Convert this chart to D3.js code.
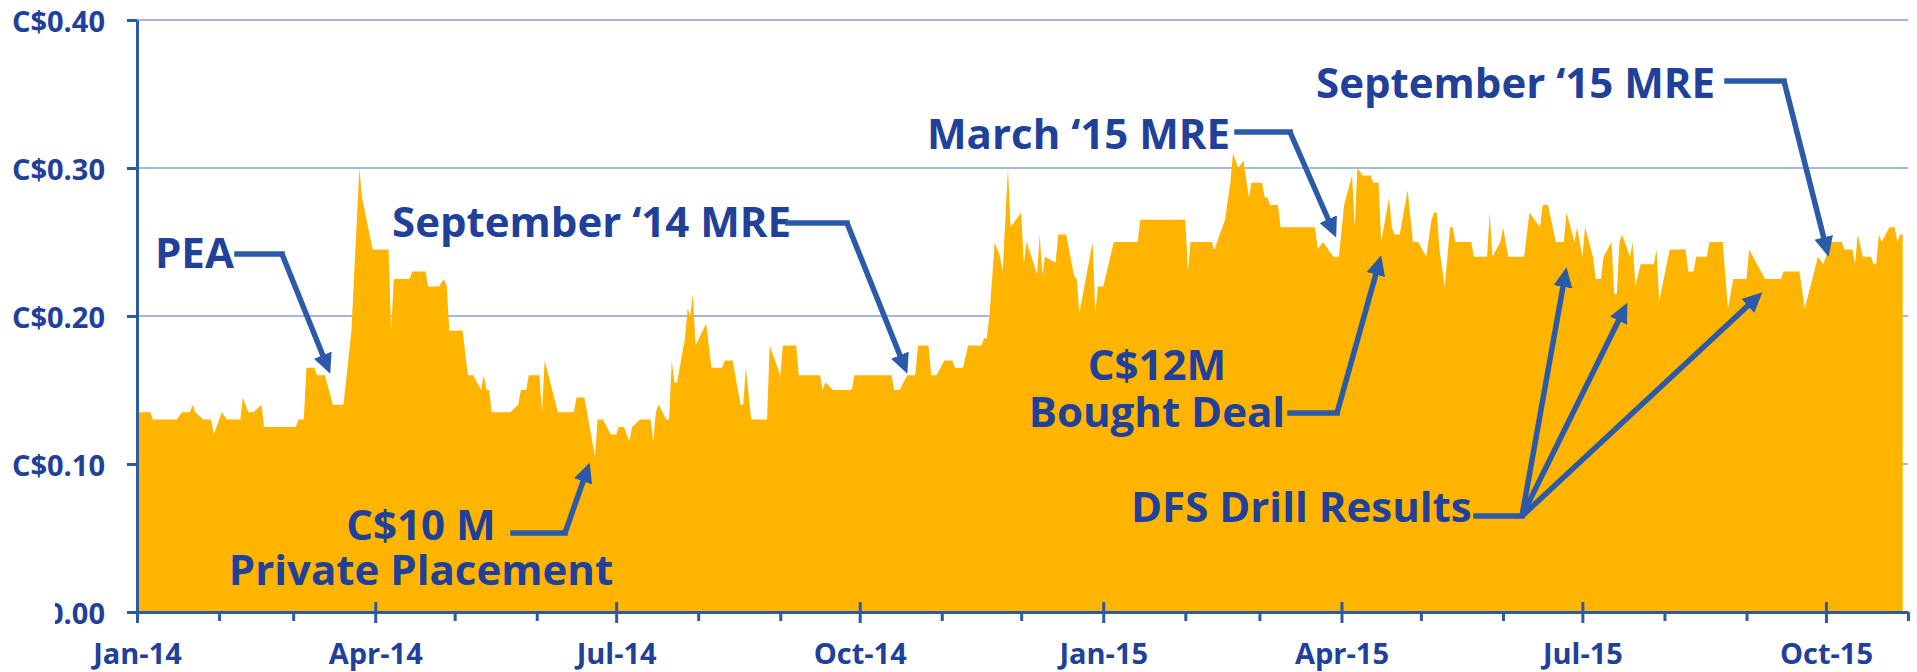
<!DOCTYPE html>
<html lang="en">
<head>
<meta charset="utf-8">
<title>Share price 2014-2015</title>
<script src="https://cdn.jsdelivr.net/npm/d3@7"></script>
<style>
  body { margin: 0; background: #fff; }
  svg { display: block; font-family: "Open Sans", sans-serif; font-weight: 700; }
</style>
</head>
<body>
<div id="chart"></div>
<script>
// closing prices in C$
var dates14 = ["2014-01-01","2014-01-06","2014-01-07","2014-01-16","2014-01-18","2014-01-21","2014-01-22","2014-01-23","2014-01-26","2014-01-29",
  "2014-01-30","2014-02-02","2014-02-04","2014-02-09","2014-02-10","2014-02-12","2014-02-14","2014-02-17","2014-02-18","2014-03-02",
  "2014-03-03","2014-03-05","2014-03-06","2014-03-09","2014-03-10","2014-03-13","2014-03-16","2014-03-20","2014-03-23","2014-03-26",
  "2014-03-27","2014-03-31","2014-04-06","2014-04-07","2014-04-08","2014-04-14","2014-04-15","2014-04-20","2014-04-21","2014-04-25",
  "2014-04-27","2014-04-28","2014-04-29","2014-05-04","2014-05-06","2014-05-08","2014-05-11","2014-05-12","2014-05-13","2014-05-14",
  "2014-05-15","2014-05-22","2014-05-25","2014-05-26","2014-05-28","2014-05-29","2014-06-02","2014-06-03","2014-06-04","2014-06-09",
  "2014-06-15","2014-06-16","2014-06-19","2014-06-23","2014-06-24","2014-06-26","2014-06-29","2014-07-01","2014-07-02","2014-07-04",
  "2014-07-06","2014-07-07","2014-07-10","2014-07-14","2014-07-15","2014-07-16","2014-07-17","2014-07-20","2014-07-21","2014-07-22",
  "2014-07-23","2014-07-24","2014-07-27","2014-07-28","2014-07-29","2014-07-30","2014-07-31","2014-08-04","2014-08-06","2014-08-10",
  "2014-08-11","2014-08-14","2014-08-17","2014-08-18","2014-08-19","2014-08-21","2014-08-27","2014-08-28","2014-09-01","2014-09-02",
  "2014-09-07","2014-09-08","2014-09-16","2014-09-17","2014-09-18","2014-09-21","2014-09-28","2014-09-29","2014-10-13","2014-10-14",
  "2014-10-16","2014-10-19","2014-10-22","2014-10-23","2014-10-27","2014-10-28","2014-10-30","2014-11-02","2014-11-05","2014-11-06",
  "2014-11-09","2014-11-11","2014-11-16","2014-11-17","2014-11-18","2014-11-19","2014-11-21","2014-11-23","2014-11-24","2014-11-26",
  "2014-11-27","2014-12-01","2014-12-02","2014-12-03","2014-12-04","2014-12-07","2014-12-08","2014-12-09","2014-12-10","2014-12-14",
  "2014-12-15","2014-12-18","2014-12-21","2014-12-22","2014-12-23","2014-12-28","2014-12-29","2014-12-30"];
var prices14 = [0.135,0.135,0.13,0.13,0.135,0.135,0.14,0.135,0.13,0.13,
  0.12,0.135,0.13,0.13,0.145,0.135,0.135,0.14,0.125,0.125,
  0.13,0.13,0.165,0.165,0.16,0.16,0.14,0.14,0.19,0.30,
  0.28,0.245,0.245,0.19,0.225,0.225,0.23,0.23,0.22,0.22,
  0.225,0.22,0.19,0.19,0.16,0.16,0.15,0.16,0.15,0.15,
  0.135,0.135,0.14,0.15,0.15,0.16,0.16,0.135,0.17,0.135,
  0.135,0.145,0.145,0.105,0.13,0.13,0.12,0.12,0.125,0.125,
  0.115,0.125,0.13,0.13,0.115,0.135,0.14,0.13,0.13,0.17,
  0.155,0.155,0.185,0.205,0.20,0.215,0.18,0.195,0.165,0.165,
  0.17,0.17,0.14,0.14,0.165,0.13,0.13,0.18,0.16,0.18,
  0.18,0.16,0.16,0.15,0.155,0.15,0.15,0.16,0.16,0.15,
  0.15,0.16,0.16,0.18,0.18,0.16,0.16,0.17,0.17,0.165,
  0.165,0.18,0.18,0.185,0.185,0.20,0.25,0.24,0.23,0.30,
  0.26,0.27,0.235,0.25,0.245,0.228,0.255,0.227,0.24,0.236,
  0.255,0.255,0.227,0.225,0.202,0.25,0.202,0.22];

var dates15 = ["2015-01-01","2015-01-05","2015-01-14","2015-01-15","2015-02-01","2015-02-02","2015-02-03","2015-02-11","2015-02-12","2015-02-16",
  "2015-02-18","2015-02-19","2015-02-21","2015-02-23","2015-02-25","2015-02-26","2015-03-02","2015-03-03","2015-03-04","2015-03-05",
  "2015-03-08","2015-03-09","2015-03-22","2015-03-23","2015-03-25","2015-03-27","2015-03-29","2015-03-31","2015-04-02","2015-04-05",
  "2015-04-06","2015-04-07","2015-04-09","2015-04-12","2015-04-13","2015-04-15","2015-04-16","2015-04-19","2015-04-20","2015-04-21",
  "2015-04-23","2015-04-26","2015-04-28","2015-04-30","2015-05-03","2015-05-05","2015-05-06","2015-05-07","2015-05-08","2015-05-10",
  "2015-05-12","2015-05-13","2015-05-14","2015-05-20","2015-05-21","2015-05-26","2015-05-27","2015-05-28","2015-05-31","2015-06-01",
  "2015-06-03","2015-06-09","2015-06-11","2015-06-15","2015-06-16","2015-06-18","2015-06-21","2015-06-24","2015-06-25","2015-06-28",
  "2015-06-29","2015-07-01","2015-07-02","2015-07-05","2015-07-06","2015-07-08","2015-07-09","2015-07-12","2015-07-13","2015-07-14",
  "2015-07-15","2015-07-16","2015-07-19","2015-07-20","2015-07-21","2015-07-23","2015-07-28","2015-07-29","2015-07-30","2015-08-03",
  "2015-08-09","2015-08-10","2015-08-12","2015-08-13","2015-08-17","2015-08-18","2015-08-23","2015-08-25","2015-08-27","2015-09-01",
  "2015-09-02","2015-09-08","2015-09-14","2015-09-15","2015-09-21","2015-09-23","2015-09-28","2015-09-30","2015-10-03","2015-10-07",
  "2015-10-08","2015-10-11","2015-10-12","2015-10-13","2015-10-15","2015-10-18","2015-10-19","2015-10-20","2015-10-21","2015-10-22",
  "2015-10-25","2015-10-27","2015-10-28","2015-10-29","2015-10-30"];
var prices15 = [0.22,0.25,0.25,0.265,0.265,0.23,0.25,0.25,0.245,0.265,
  0.29,0.31,0.30,0.305,0.28,0.29,0.29,0.28,0.28,0.275,
  0.275,0.26,0.26,0.245,0.25,0.245,0.24,0.24,0.275,0.295,
  0.26,0.30,0.295,0.295,0.29,0.29,0.25,0.28,0.26,0.255,
  0.255,0.285,0.25,0.25,0.24,0.265,0.27,0.27,0.245,0.22,
  0.26,0.26,0.25,0.25,0.24,0.24,0.27,0.24,0.25,0.26,
  0.24,0.24,0.27,0.26,0.275,0.275,0.25,0.25,0.27,0.25,
  0.26,0.24,0.26,0.24,0.225,0.225,0.24,0.25,0.215,0.215,
  0.25,0.255,0.24,0.25,0.22,0.235,0.235,0.245,0.21,0.245,
  0.245,0.23,0.23,0.24,0.24,0.25,0.25,0.205,0.225,0.225,
  0.245,0.225,0.225,0.23,0.23,0.205,0.24,0.235,0.25,0.25,
  0.245,0.245,0.235,0.255,0.24,0.24,0.235,0.235,0.255,0.25,
  0.26,0.26,0.25,0.255,0.255];

var yTicks = [0, 0.1, 0.2, 0.3, 0.4];

// call-outs: text lines, then the elbow of the arrow and where it points (date, price)
var notes = [
  { lines: ["PEA"], x: 155, y: 268, anchor: "start", elbow: [[237, 254], [282, 254]], tips: [["2014-03-15", 0.161]] },
  { lines: ["September \u201814 MRE"], x: 392, y: 237, anchor: "start", elbow: [[788, 223], [847, 223]], tips: [["2014-10-19", 0.161]] },
  { lines: ["March \u201815 MRE"], x: 927, y: 149, anchor: "start", elbow: [[1237, 132], [1290, 132]], tips: [["2015-03-30", 0.253]] },
  { lines: ["September \u201815 MRE"], x: 1316, y: 98, anchor: "start", elbow: [[1727, 81], [1784, 81]], tips: [["2015-10-02", 0.24]] },
  { lines: ["C$10 M", "Private Placement"], x: 421, y: 540, gap: 45, anchor: "middle", elbow: [[513, 533], [565, 533]], tips: [["2014-06-21", 0.101]] },
  { lines: ["C$12M", "Bought Deal"], x: 1157, y: 380, gap: 47, anchor: "middle", elbow: [[1290, 413], [1337, 413]], tips: [["2015-04-16", 0.241]] },
  { lines: ["DFS Drill Results"], x: 1131, y: 522, anchor: "start", elbow: [[1476, 516], [1522, 516]],
    tips: [["2015-06-25", 0.233], ["2015-07-18", 0.209], ["2015-09-07", 0.216]] }
];

var W = 1917, H = 672;
var textBlue = "#21409a", axisBlue = "#2d5aa7", arrowBlue = "#2b5aa8", gridBlue = "#a6b7d9", gold = "#ffb500";

var parse = d3.utcParse("%Y-%m-%d");
var data = dates14.concat(dates15).map(function(d, i) {
  return { date: parse(d), price: prices14.concat(prices15)[i] };
});

var x = d3.scaleUtc().domain([parse("2014-01-01"), parse("2015-11-01")]).range([137, 1908]);
var y = d3.scaleLinear().domain([0, 0.4]).range([612, 20]);

var svg = d3.select("#chart").append("svg").attr("width", W).attr("height", H);
var defs = svg.append("defs");

// arrow head, line stops 14px short of the point
defs.append("marker")
  .attr("id", "head")
  .attr("viewBox", "0 -10 20 20")
  .attr("refX", 6).attr("refY", 0)
  .attr("markerWidth", 20).attr("markerHeight", 20)
  .attr("markerUnits", "userSpaceOnUse")
  .attr("orient", "auto")
  .append("path").attr("d", "M0,-9.5L20,0L0,9.5Z").attr("fill", arrowBlue);

// gridlines
svg.append("g").selectAll("line")
  .data(yTicks.filter(function(d) { return d > 0; }))
  .join("line")
  .attr("x1", x.range()[0]).attr("x2", x.range()[1])
  .attr("y1", y).attr("y2", y)
  .attr("stroke", gridBlue).attr("stroke-width", 2);

// price area
var area = d3.area()
  .x(function(d) { return x(d.date); })
  .y0(y(0))
  .y1(function(d) { return y(d.price); });

svg.append("path").datum(data).attr("d", area).attr("fill", gold);

// x axis, monthly ticks, labels every quarter
var fmt = d3.utcFormat("%b-%y");
var xAxis = svg.append("g")
  .attr("transform", "translate(0," + y(0) + ")")
  .call(d3.axisBottom(x)
    .ticks(d3.utcMonth.every(1))
    .tickSize(9).tickSizeOuter(0)
    .tickFormat(function(d) { return d.getUTCMonth() % 3 === 0 ? fmt(d) : ""; }));
xAxis.select(".domain").attr("stroke", axisBlue).attr("stroke-width", 3);
xAxis.selectAll(".tick line").attr("stroke", axisBlue).attr("stroke-width", 3)
  .filter(function(d) { return d.getUTCMonth() % 3 === 0; })
  .attr("y1", -10).attr("y2", 11);
xAxis.selectAll(".tick text")
  .attr("y", 52).attr("dy", null)
  .attr("fill", textBlue)
  .style("font-size", "29px").style("font-family", "'Open Sans', sans-serif").style("font-weight", 700);

// y axis
var yAxis = svg.append("g")
  .attr("transform", "translate(137,0)")
  .call(d3.axisLeft(y).tickValues(yTicks).tickSize(10).tickSizeOuter(0)
    .tickFormat(function(d) { return "C$" + d.toFixed(2); }));
yAxis.select(".domain").attr("stroke", axisBlue).attr("stroke-width", 3);
yAxis.selectAll(".tick line").attr("stroke", axisBlue).attr("stroke-width", 3);
yAxis.selectAll(".tick text")
  .attr("x", -32).attr("dy", "0.38em")
  .attr("fill", textBlue)
  .style("font-size", "29px").style("font-family", "'Open Sans', sans-serif").style("font-weight", 700);

// the zero label is cut on the left in the original
defs.append("clipPath").attr("id", "zeroCut")
  .append("rect").attr("x", -82).attr("y", -40).attr("width", 200).attr("height", 80);
yAxis.selectAll(".tick text").filter(function(d) { return d === 0; }).attr("clip-path", "url(#zeroCut)");

// call-outs
var callouts = svg.append("g");
notes.forEach(function(n) {
  var t = callouts.append("text")
    .attr("x", n.x).attr("y", n.y)
    .attr("text-anchor", n.anchor)
    .attr("fill", textBlue)
    .style("font-size", "42px");
  n.lines.forEach(function(s, i) {
    t.append("tspan").attr("x", n.x).attr("dy", i === 0 ? 0 : n.gap).text(s);
  });

  var start = n.elbow[1];
  callouts.append("path")
    .attr("d", "M" + n.elbow[0] + "L" + n.elbow[1])
    .attr("fill", "none").attr("stroke", arrowBlue).attr("stroke-width", 5.5)
    .attr("stroke-linecap", "square");

  n.tips.forEach(function(tp) {
    var tx = x(parse(tp[0])), ty = y(tp[1]);
    var dx = tx - start[0], dy = ty - start[1];
    var len = Math.sqrt(dx * dx + dy * dy);
    var ex = tx - dx / len * 14, ey = ty - dy / len * 14;
    callouts.append("path")
      .attr("d", "M" + start + "L" + ex + "," + ey)
      .attr("fill", "none").attr("stroke", arrowBlue).attr("stroke-width", 5.5)
      .attr("marker-end", "url(#head)");
  });
});
</script>
</body>
</html>
